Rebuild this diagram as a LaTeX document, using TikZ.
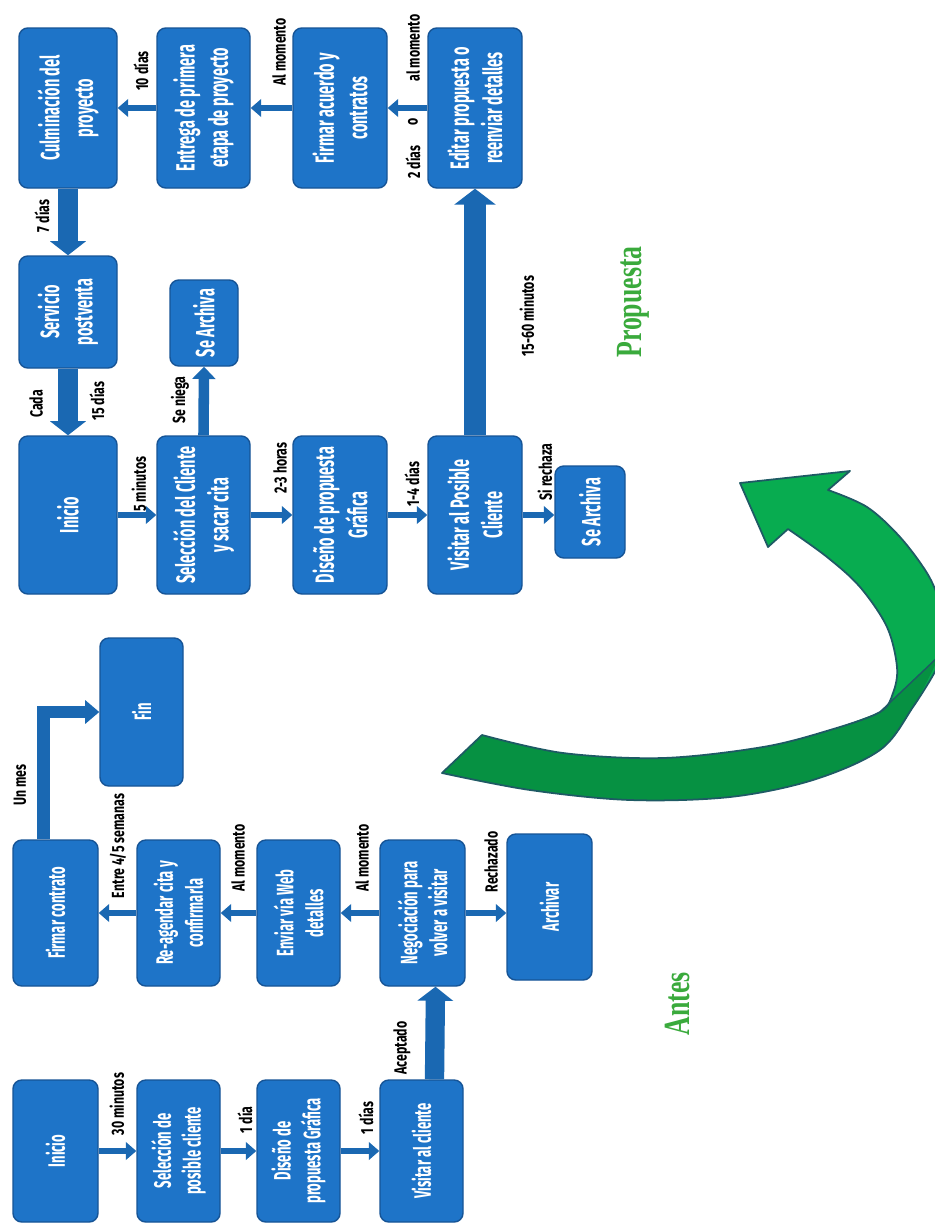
\documentclass[tikz,border=0pt]{standalone}
\usepackage{fontspec}
\setmainfont{Fira Sans}
\newfontfamily\boxfont[FakeStretch=0.55]{Fira Sans}
\newfontfamily\lblfont[FakeStretch=0.7]{Fira Sans}
\newfontfamily\ttlfont[FakeStretch=0.7]{Liberation Serif}
\usetikzlibrary{arrows.meta,calc}
\definecolor{boxblue}{RGB}{30,116,200}
\definecolor{boxedge}{RGB}{22,84,150}
\definecolor{arrblue}{RGB}{26,104,178}
\definecolor{gfill}{RGB}{8,172,80}
\definecolor{gdark}{RGB}{6,145,66}
\definecolor{gedge}{RGB}{30,90,100}
\definecolor{gtext}{RGB}{58,170,60}
\tikzset{
  sz/.style 2 args={minimum width=#1*0.02cm, minimum height=#2*0.02cm},
  pbox/.style={draw=boxedge, line width=0.8pt, fill=boxblue, rounded corners=5pt, rotate=90,
    text=white, align=center, inner sep=1pt, font=\boxfont\bfseries\fontsize{15}{19}\selectfont},
  abox/.style={pbox, font=\boxfont\bfseries\fontsize{13.5}{17}\selectfont},
  lbl/.style={rotate=90, inner sep=0pt, text=black, font=\lblfont\bfseries\fontsize{10}{12}\selectfont},
  ttl/.style={rotate=90, inner sep=0pt, text=gtext, font=\ttlfont\bfseries\fontsize{21}{24}\selectfont},
  thinarr/.style={draw=arrblue, line width=3.5pt, -{Triangle[width=10pt,length=6pt]}},
  medarr/.style={draw=arrblue, line width=6pt, -{Triangle[width=13pt,length=7pt]}},
  thickarr/.style={draw=arrblue, line width=11pt, -{Triangle[width=20pt,length=8pt]}},
  bigarr/.style={draw=arrblue, line width=13pt, -{Triangle[width=23pt,length=9pt]}},
  elbowarr/.style={draw=arrblue, line width=7pt, -{Triangle[width=13pt,length=8pt]}}
}
\begin{document}
\begin{tikzpicture}[x=0.02cm,y=-0.02cm]
\useasboundingbox (0,0) rectangle (935,1227);
\fill[white] (0,0) rectangle (935,1227);

% ---------- Propuesta ----------
\node[pbox, sz={160}{98}] (pcul) at (68,108) {Culminación del\\proyecto};
\node[pbox, sz={112}{98}] (pser) at (68,312) {Servicio\\postventa};
\node[pbox, sz={158}{98}] (pini) at (68,515) {Inicio};
\node[pbox, sz={160}{93}] (pent) at (203.5,108) {Entrega de primera\\etapa de proyecto};
\node[pbox, sz={86}{68}] (parc1) at (204,323) {Se Archiva};
\node[pbox, sz={158}{93}] (psel) at (203.5,515) {Selección del Cliente\\y sacar cita};
\node[pbox, sz={160}{94}] (pfir) at (340,108) {Firmar acuerdo y\\contratos};
\node[pbox, sz={158}{94}] (pdis) at (340,515) {Diseño de propuesta\\Gráfica};
\node[pbox, sz={160}{94}] (pedi) at (475,108) {Editar propuesta o\\reenviar detalles};
\node[pbox, sz={158}{94}] (pvis) at (475,515) {Visitar al Posible\\Cliente};
\node[pbox, sz={92}{70}] (parc2) at (590,512) {Se Archiva};

\draw[thickarr] (pcul.west) -- (pser.east);
\draw[thickarr] (pser.west) -- (pini.east);
\draw[thinarr] (pini.south) -- (psel.north);
\draw[medarr] (psel.east) -- (parc1.west);
\draw[thinarr] (psel.south) -- (pdis.north);
\draw[thinarr] (pdis.south) -- (pvis.north);
\draw[thinarr] (pvis.south) -- (pvis.south -| parc2.north);
\draw[bigarr] (pvis.east) -- (pedi.west);
\draw[thinarr] (pedi.north) -- (pfir.south);
\draw[thinarr] (pfir.north) -- (pent.south);
\draw[thinarr] (pent.north) -- (pcul.south);

\node[lbl] (l7) at (42,216) {7 días};
\node[lbl] (lcada) at (36,404) {Cada};
\node[lbl] (l15) at (97,401) {15 días};
\node[lbl] (l5m) at (139,484) {5 minutos};
\node[lbl] (lniega) at (180,400) {Se niega};
\node[lbl] (l10) at (141,71) {10 días};
\node[lbl] (lalm1) at (279,52) {Al momento};
\node[lbl] (l23) at (280,468) {2-3 horas};
\node[lbl] (l14) at (412,484) {1-4 días};
\node[lbl] (lsir) at (545,472) {Si rechaza};
\node[lbl] (l1560) at (527,316) {15-60 minutos};
\node[lbl] (l2d) at (413,162) {2 días};
\node[lbl] (lo) at (413,122) {o};
\node[lbl] (lalm2) at (413,48) {al momento};

\node[ttl] (tprop) at (633,302) {Propuesta};

% ---------- Antes ----------
\node[abox, sz={148}{83}] (afin) at (141.5,712) {Fin};
\node[abox, sz={146}{85}] (afir) at (55.5,913) {Firmar contrato};
\node[abox, sz={146}{83}] (area) at (178.5,913) {Re-agendar cita y\\confirmarla};
\node[abox, sz={146}{83}] (aenv) at (298.5,913) {Enviar vía Web\\detalles};
\node[abox, sz={146}{85}] (aneg) at (422.5,913) {Negociación para\\volver a visitar};
\node[abox, sz={146}{85}] (aarc) at (549.5,907) {Archivar};
\node[abox, sz={142}{85}] (aini) at (55.5,1151) {Inicio};
\node[abox, sz={142}{83}] (asel) at (178.5,1151) {Selección de\\posible cliente};
\node[abox, sz={142}{83}] (adis) at (298.5,1151) {Diseño de\\propuesta Gráfica};
\node[abox, sz={142}{83}] (avis) at (421.5,1151) {Visitar al cliente};

\draw[elbowarr] ($(afir.east)+(-12,0)$) |- (afin.north);
\draw[thinarr] (area.north) -- (afir.south);
\draw[thinarr] (aenv.north) -- (area.south);
\draw[thinarr] (aneg.north) -- (aenv.south);
\draw[thinarr] (aneg.south) -- (aneg.south -| aarc.north);
\draw[thickarr] ($(avis.east)+(13,0)$) -- ($(aneg.west)+(13,0)$);
\draw[thinarr] (aini.south) -- (asel.north);
\draw[thinarr] (asel.south) -- (adis.north);
\draw[thinarr] (adis.south) -- (avis.north);

\node[lbl] (lunmes) at (20,785) {Un mes};
\node[lbl] (lentre) at (118,846) {Entre 4/5 semanas};
\node[lbl] (lalm3) at (238,858) {Al momento};
\node[lbl] (lalm4) at (362,858) {Al momento};
\node[lbl] (lrech) at (491,862) {Rechazado};
\node[lbl] (lacep) at (402,1048) {Aceptado};
\node[lbl] (l30) at (117,1104) {30 minutos};
\node[lbl] (l1dia) at (245,1120) {1 día};
\node[lbl] (l1dias) at (366,1118) {1 días};

\node[ttl] (tantes) at (677,1004) {Antes};

% ---------- green curved arrow ----------
\begin{scope}
\clip (0,0) rectangle (935,1227);
% whole ribbon (lighter upper part)
\fill[gfill]
  plot[smooth, tension=0.55] coordinates {(442,773) (530,790) (630,800) (730,797) (813,780) (880,750) (913,707) (940,662) (948,630) (940,602) (927,573) (900,537) (867,507) (828,490)}
  -- (850,471) -- (740,483) -- (768,547)
  -- plot[smooth, tension=0.55] coordinates {(788,529) (827,557) (860,587) (887,627) (897,667) (893,693) (880,712) (830,730) (763,747) (663,758) (563,753) (482,735)}
  -- cycle;
% darker lower band
\fill[gdark]
  plot[smooth, tension=0.55] coordinates {(442,773) (530,790) (630,800) (730,797) (813,780) (880,750) (913,707) (940,655)}
  -- (880,712)
  -- plot[smooth, tension=0.55] coordinates {(880,712) (830,730) (763,747) (663,758) (563,753) (482,735)}
  -- cycle;
% outline
\draw[gedge, line width=1pt, line join=round]
  plot[smooth, tension=0.55] coordinates {(442,773) (530,790) (630,800) (730,797) (813,780) (880,750) (913,707) (940,662) (948,630) (940,602) (927,573) (900,537) (867,507) (828,490)}
  -- (850,471) -- (740,483) -- (768,547)
  -- plot[smooth, tension=0.55] coordinates {(788,529) (827,557) (860,587) (887,627) (897,667) (893,693) (880,712) (830,730) (763,747) (663,758) (563,753) (482,735)}
  -- cycle;
\draw[gedge, line width=0.8pt] (880,712) -- (940,655);
\end{scope}
\end{tikzpicture}
\end{document}
